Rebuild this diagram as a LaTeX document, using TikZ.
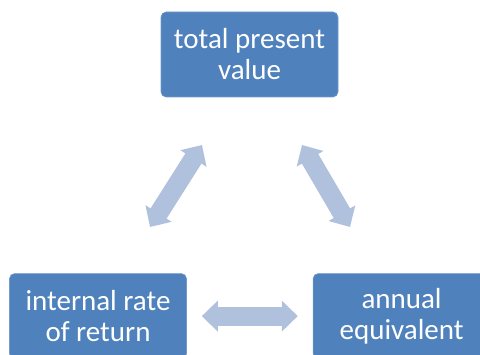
\documentclass[tikz,border=0pt]{standalone}
\usepackage{fontspec}
\setmainfont{Carlito}
\usepackage{xcolor}
\usetikzlibrary{positioning, arrows.meta}
\definecolor{boxblue}{HTML}{4F81BD}
\definecolor{linkblue}{HTML}{B0C1DD}

\begin{document}
\begin{tikzpicture}[
    x = 1pt, y = 1pt, align = center,
    measure/.style = {rectangle, rounded corners = 5pt, fill = boxblue, draw = boxblue!80!white, line width = 0.6pt,
        text = white, inner sep = 0pt, minimum width = 177pt, minimum height = 85pt,
        font = \fontsize{29}{31}\selectfont},
    link/.style = {draw = linkblue, line width = 19pt, {Triangle[width = 30pt, length = 16pt]}-{Triangle[width = 30pt, length = 16pt]}},
    ]
    \useasboundingbox (0,0) rectangle (480,354);
    \clip (0,0) rectangle (480,354);

    \node [measure] (tpv) at (249.5,299.5) {total present\\value};
    \node [measure] (irr) [below = 176pt of tpv, xshift = -151.5pt] {internal rate\\of return};
    \node [measure] (ae)  [right = 126pt of irr] {annual\\equivalent};

    % arrow ends between the boxes
    \coordinate (irr_tip) at (150,127);
    \coordinate (tpv_tipl) at (202,209);
    \coordinate (tpv_tipr) at (302,209);
    \coordinate (ae_tip) at (350,127);

    % draw links
    \draw [link] (irr_tip) -- (tpv_tipl);
    \draw [link] (tpv_tipr) -- (ae_tip);
    \draw [link, shorten <= 15pt, shorten >= 15pt] (irr.east) -- (ae.west);
\end{tikzpicture}
\end{document}
